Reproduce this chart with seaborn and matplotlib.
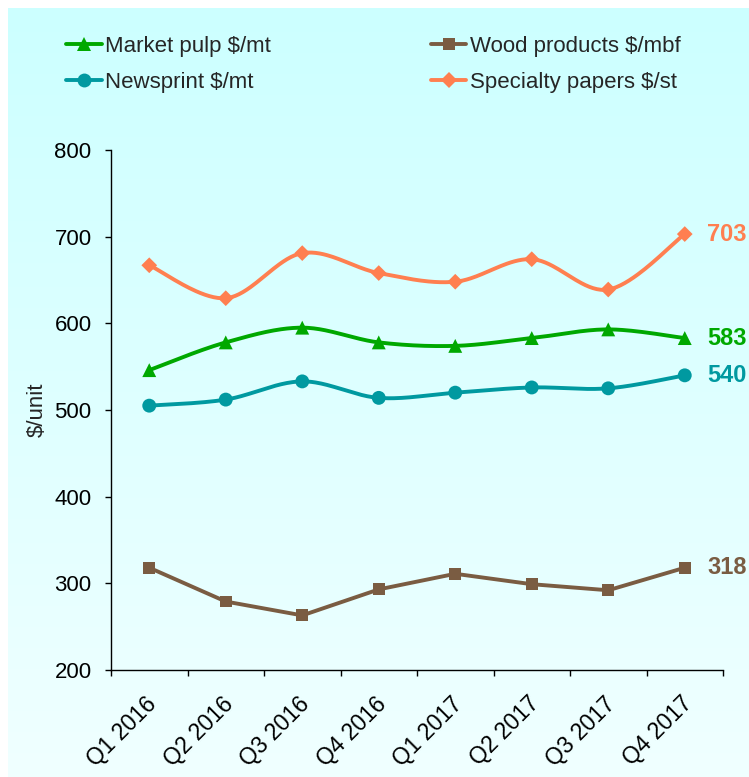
import numpy as np
import pandas as pd
import matplotlib
matplotlib.use("Agg")
import matplotlib.pyplot as plt
from matplotlib.lines import Line2D
from matplotlib.transforms import ScaledTranslation
import seaborn as sns

# Quarterly average prices by product line
quarters = ["Q1 2016", "Q2 2016", "Q3 2016", "Q4 2016",
            "Q1 2017", "Q2 2017", "Q3 2017", "Q4 2017"]
market_pulp = [546, 578, 595, 578, 574, 583, 593, 583]
newsprint = [505, 512, 533, 514, 520, 526, 525, 540]
wood_products = [318, 279, 263, 293, 311, 299, 292, 318]
specialty_papers = [667, 629, 681, 658, 648, 674, 639, 703]

series_names = ["Market pulp $/mt", "Newsprint $/mt",
                "Wood products $/mbf", "Specialty papers $/st"]
series_values = [market_pulp, newsprint, wood_products, specialty_papers]
series_colors = ["#00A800", "#0099A0", "#7A5C42", "#FF7F50"]
series_markers = ["^", "o", "s", "D"]
marker_sizes = [10, 10, 8.5, 8]
smoothed = [True, True, False, True]

sns.set_style("ticks")
plt.rcParams["font.family"] = ["Liberation Sans", "DejaVu Sans"]


def bezier_smooth(y, n=40):
    """Smooth curve through the points (Catmull-Rom style Bezier segments)."""
    x = np.arange(len(y), dtype=float)
    y = np.asarray(y, dtype=float)
    px = np.concatenate([[x[0]], x, [x[-1]]])
    py = np.concatenate([[y[0]], y, [y[-1]]])
    t = np.linspace(0, 1, n, endpoint=False)
    xs, ys = [], []
    for i in range(len(x) - 1):
        p0 = np.array([px[i], py[i]])
        p1 = np.array([px[i + 1], py[i + 1]])
        p2 = np.array([px[i + 2], py[i + 2]])
        p3 = np.array([px[i + 3], py[i + 3]])
        c1 = p1 + (p2 - p0) / 6.0
        c2 = p2 - (p3 - p1) / 6.0
        for comp, out in ((0, xs), (1, ys)):
            b = ((1 - t) ** 3 * p1[comp] + 3 * (1 - t) ** 2 * t * c1[comp]
                 + 3 * (1 - t) * t ** 2 * c2[comp] + t ** 3 * p2[comp])
            out.extend(b)
    xs.append(x[-1])
    ys.append(y[-1])
    return np.array(xs), np.array(ys)


W, H = 749, 777
fig = plt.figure(figsize=(W / 100, H / 100), dpi=100)
fig.patch.set_facecolor("white")

# Light cyan gradient panel behind everything
bg = fig.add_axes([8 / W, 0, 1 - 8 / W, 1 - 8 / H], zorder=-5)
top = np.array([204, 255, 255]) / 255
bottom = np.array([240, 255, 255]) / 255
grad = np.linspace(0, 1, 256)[:, None, None]
img = top * (1 - grad) + bottom * grad
bg.imshow(np.repeat(img, 2, axis=1), aspect="auto", extent=(0, 1, 0, 1))
bg.set_axis_off()

ax = fig.add_axes([111 / W, 1 - 670 / H, (723 - 111) / W, (670 - 150) / H])
ax.set_facecolor("none")

idx = np.arange(len(quarters))
for name, vals, col, mk, ms, sm in zip(series_names, series_values, series_colors,
                                       series_markers, marker_sizes, smoothed):
    if sm:
        cx, cy = bezier_smooth(vals)
    else:
        cx, cy = idx.astype(float), np.asarray(vals, float)
    curve = pd.DataFrame({"x": cx, "y": cy})
    sns.lineplot(data=curve, x="x", y="y", color=col, lw=2.8, sort=False,
                 estimator=None, ax=ax, zorder=3)
    pts = pd.DataFrame({"x": idx, "y": vals})
    sns.scatterplot(data=pts, x="x", y="y", marker=mk, s=ms ** 2, color=col,
                    edgecolor="none", linewidth=0, ax=ax, zorder=4)
    ax.annotate(f"{vals[-1]}", xy=(idx[-1], vals[-1]), xytext=(16, 0),
                textcoords="offset points", ha="left", va="center",
                fontsize=17, fontweight="bold", color=col,
                annotation_clip=False)

ax.set_xlim(-0.5, len(quarters) - 0.5)
ax.set_ylim(200, 800)
ax.set_yticks(np.arange(200, 801, 100))
ax.set_xticks(idx)
ax.set_xticklabels(quarters, rotation=45, ha="right", va="top",
                   rotation_mode="anchor")
ax.set_xticks(np.arange(-0.5, len(quarters)), minor=True)
ax.tick_params(axis="x", which="major", length=0, pad=16, labelsize=16.5,
               colors="black")
ax.tick_params(axis="x", which="minor", length=4.5, width=1, color="black",
               direction="out")
ax.tick_params(axis="y", length=4, width=1, pad=10, labelsize=16,
               colors="black", direction="out")
# nudge the slanted quarter labels slightly left
shift = ScaledTranslation(-4 / 100, 0, fig.dpi_scale_trans)
for lbl in ax.get_xticklabels():
    lbl.set_transform(lbl.get_transform() + shift)
ax.set_xlabel("")
ax.set_ylabel("$/unit", fontsize=16, labelpad=5)
for side in ("top", "right"):
    ax.spines[side].set_visible(False)
for side in ("left", "bottom"):
    ax.spines[side].set_color("black")
    ax.spines[side].set_linewidth(1)

handles = [Line2D([0], [0], color=c, lw=2.8, marker=m, markersize=ms,
                  markeredgewidth=0, label=n)
           for n, c, m, ms in zip(series_names, series_colors,
                                  series_markers, marker_sizes)]
fig.legend(handles=handles, loc="upper left", bbox_to_anchor=(66 / W, 1 - 36 / H),
           ncol=2, frameon=False, fontsize=16, handlelength=1.6,
           handletextpad=0.15, columnspacing=7.2, labelspacing=0.66,
           borderpad=0, borderaxespad=0)

fig.savefig("out.png", dpi=100, facecolor=fig.get_facecolor())
